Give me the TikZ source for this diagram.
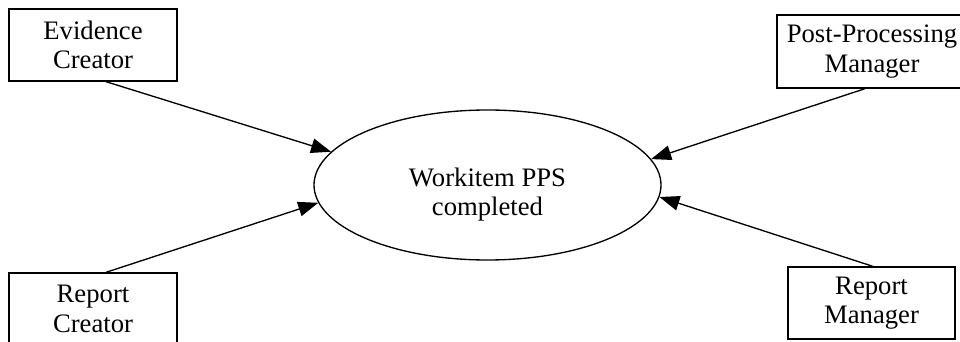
\documentclass[tikz,border=0pt]{standalone}
\usepackage{fontspec}
\setmainfont{Liberation Serif}
\usetikzlibrary{shapes.geometric,arrows.meta}

\tikzset{
  actor/.style={draw, line width=1pt, align=center, inner sep=0pt,
    font=\fontsize{20}{22}\selectfont},
  event/.style={draw, ellipse, line width=1pt, align=center, inner sep=0pt,
    minimum width=260.25pt, minimum height=112.5pt,
    font=\fontsize{20}{22}\selectfont},
  flow/.style={-{Triangle[length=15pt,width=11pt]}, line width=1pt}
}

\begin{document}
\begin{tikzpicture}[x=0.75pt, y=-0.75pt]
            \useasboundingbox (0,0) rectangle (960,342);

            \node[actor, minimum width=126pt, minimum height=54pt] (ec) at (93,45) {Evidence\\Creator};
            \node[actor, minimum width=142.5pt, minimum height=54.75pt] (ppm) at (872,51.5) {Post-Processing\\Manager};
            \node[actor, minimum width=126pt, minimum height=54pt] (rc) at (93,309) {Report\\Creator};
            \node[actor, minimum width=125.25pt, minimum height=54pt] (rm) at (871.5,303) {Report\\Manager};
            \node[event, text height=50pt] (wi) at (487.5,185) {Workitem PPS\\completed};

            \draw[flow] ([xshift=9.75pt]ec.south) -- (wi.168.5);
            \draw[flow] ([xshift=9.75pt]rc.north) -- (wi.186.1);
            \draw[flow] ([xshift=-5.25pt]ppm.south) -- (wi.9.1);
            \draw[flow] ([xshift=1pt]rm.north) -- (wi.-4);
        \end{tikzpicture}
\end{document}
